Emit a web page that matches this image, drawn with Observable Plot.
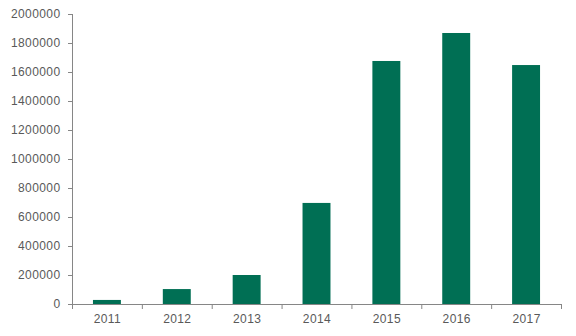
<!DOCTYPE html>
<html>
<head>
<meta charset="utf-8">
<script src="https://cdn.jsdelivr.net/npm/d3@7"></script>
<script src="https://cdn.jsdelivr.net/npm/@observablehq/plot@0.6"></script>
<style>
  html, body { margin: 0; padding: 0; background: #fff; }
  svg text { letter-spacing: 0.4px; }
</style>
</head>
<body>
<div id="chart"></div>
<script>
const years = [2011, 2012, 2013, 2014, 2015, 2016, 2017];
const values = [28000, 103000, 200000, 697000, 1676000, 1869000, 1648000];
const yTicks = [0, 200000, 400000, 600000, 800000, 1000000, 1200000, 1400000, 1600000, 1800000, 2000000];

const data = years.map((year, i) => ({year, value: values[i]}));
const boundaries = [years[0] - 0.5, ...years.map(y => y + 0.5)];
const axisColor = "#868686";
const textColor = "#595959";

const chart = Plot.plot({
  width: 576,
  height: 336,
  marginLeft: 72,
  marginRight: 15,
  marginTop: 14,
  marginBottom: 32,
  style: {fontFamily: "'Liberation Sans', Arial, sans-serif", fontSize: "12px", color: textColor, background: "#fff"},
  x: {domain: [boundaries[0], boundaries[boundaries.length - 1]], axis: null},
  y: {domain: [0, 2000000], axis: null},
  marks: [
    Plot.rectY(data, {x1: d => d.year - 0.2, x2: d => d.year + 0.2, y: "value", fill: "#006F54"}),
    Plot.axisY({ticks: yTicks, tickFormat: d => String(d), tickSize: 4, tickPadding: 8, stroke: axisColor, fill: textColor, label: null}),
    Plot.axisX({ticks: boundaries, tickFormat: () => "", tickSize: 5, stroke: axisColor, label: null}),
    Plot.axisX({ticks: years, tickFormat: d => String(d), tickSize: 0, tickPadding: 10, fill: textColor, label: null}),
    Plot.ruleY([0], {stroke: axisColor}),
    Plot.ruleX([boundaries[0]], {y1: 0, y2: 2000000, stroke: axisColor})
  ]
});
document.getElementById("chart").appendChild(chart);
</script>
</body>
</html>
